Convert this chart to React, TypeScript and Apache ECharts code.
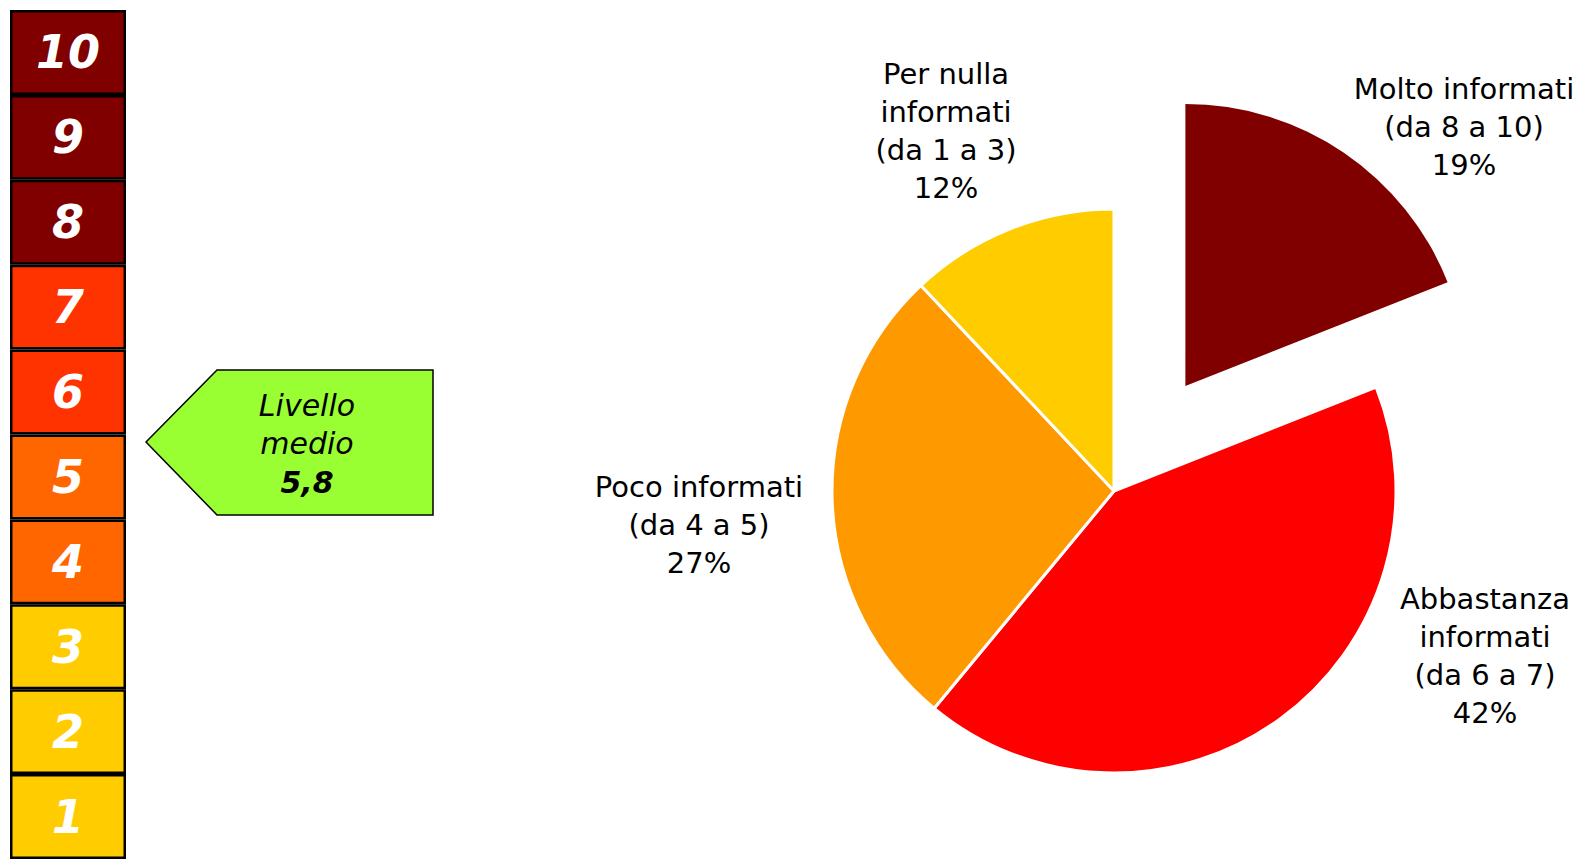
import React, { useEffect, useRef } from "react";
import * as echarts from "echarts";

const scaleLevels = ["1", "2", "3", "4", "5", "6", "7", "8", "9", "10"];
const scaleColors = ["#FFCC00", "#FFCC00", "#FFCC00", "#FF6600", "#FF6600", "#FF3300", "#FF3300", "#800000", "#800000", "#800000"];
const scaleUnit = [1, 1, 1, 1, 1, 1, 1, 1, 1, 1];

const sliceNames = [
  "Molto informati\n(da 8 a 10)",
  "Abbastanza\ninformati\n(da 6 a 7)",
  "Poco informati\n(da 4 a 5)",
  "Per nulla\ninformati\n(da 1 a 3)",
];
const sliceValues = [19, 42, 27, 12];
const sliceColors = ["#800000", "#FF0000", "#FF9900", "#FFCC00"];
const sliceSelected = [true, false, false, false];

const averageLabel = ["Livello", "medio"];
const averageValue = "5,8";

const labelPos: [number, number][] = [
  [1464, 127],
  [1485, 656],
  [699, 525],
  [946, 131],
];

export default function App() {
  const ref = useRef<HTMLDivElement>(null);
  useEffect(() => {
    document.body.style.margin = "0";
    const chart = echarts.init(ref.current!, null, { renderer: "svg" });
    const font = "'DejaVu Sans', Verdana, sans-serif";
    const sliceLabels = sliceNames.map((n, i) => ({
      type: "text",
      x: labelPos[i][0],
      y: labelPos[i][1],
      silent: true,
      style: {
        text: n + "\n" + sliceValues[i] + "%",
        fill: "#000",
        fontSize: 29,
        lineHeight: 38,
        fontFamily: font,
        align: "center",
        verticalAlign: "middle",
      },
    }));
    chart.setOption({
      animation: false,
      grid: { left: 10, top: 10, width: 116, height: 854, containLabel: false },
      xAxis: { type: "value", min: 0, max: 1, show: false },
      yAxis: {
        type: "category",
        data: scaleLevels,
        show: false,
      },
      series: [
        {
          type: "bar",
          barWidth: "100%",
          barCategoryGap: 0,
          silent: true,
          data: scaleUnit.map((v, i) => ({
            value: v,
            itemStyle: { color: scaleColors[i], borderColor: "#000", borderWidth: 2.5 },
          })),
          label: {
            show: true,
            position: "inside",
            formatter: "{b}",
            color: "#fff",
            fontSize: 46,
            fontWeight: "bold",
            fontStyle: "italic",
            fontFamily: font,
          },
        },
        {
          type: "pie",
          center: [1114, 491],
          radius: 282,
          startAngle: 90,
          clockwise: true,
          selectedMode: "single",
          selectedOffset: 127,
          silent: true,
          emphasis: { disabled: true },
          itemStyle: { borderColor: "#fff", borderWidth: 3 },
          data: sliceNames.map((n, i) => ({
            name: n,
            value: sliceValues[i],
            selected: sliceSelected[i],
            itemStyle: {
              color: sliceColors[i],
              borderWidth: sliceSelected[i] ? 0 : 3,
            },
          })),
          label: { show: false },
          labelLine: { show: false },
        },
      ],
      graphic: [
        {
          type: "polygon",
          shape: {
            points: [
              [146, 442],
              [217, 370],
              [433, 370],
              [433, 515],
              [217, 515],
            ],
          },
          style: { fill: "#99FF33", stroke: "#000", lineWidth: 1.5 },
          silent: true,
        },
        {
          type: "text",
          x: 307,
          y: 424,
          style: {
            text: averageLabel.join("\n"),
            fill: "#000",
            fontSize: 30,
            fontStyle: "italic",
            fontFamily: font,
            lineHeight: 38,
            align: "center",
            verticalAlign: "middle",
          },
          silent: true,
        },
        {
          type: "text",
          x: 307,
          y: 482,
          style: {
            text: averageValue,
            fill: "#000",
            fontSize: 30,
            fontStyle: "italic",
            fontWeight: "bold",
            fontFamily: font,
            align: "center",
            verticalAlign: "middle",
          },
          silent: true,
        },
        ...sliceLabels,
      ],
    });
    return () => chart.dispose();
  }, []);
  return <div ref={ref} style={{ width: 1581, height: 859 }} />;
}
